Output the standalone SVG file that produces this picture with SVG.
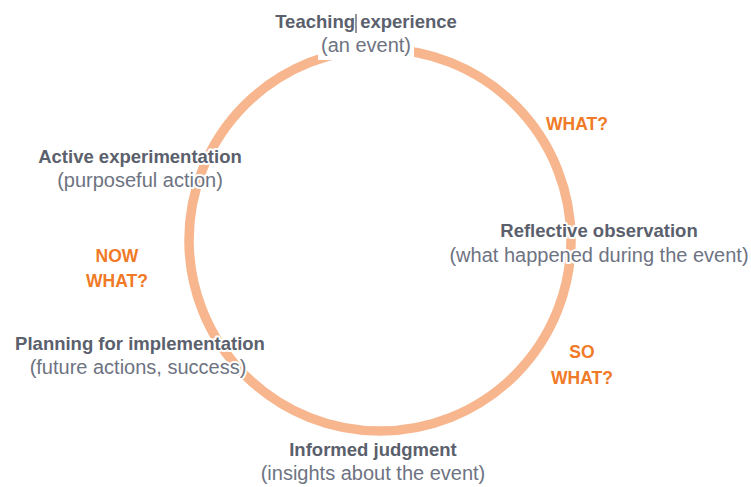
<svg xmlns="http://www.w3.org/2000/svg" width="751" height="487" viewBox="0 0 751 487">
<style>
text{font-family:"Liberation Sans",Arial,sans-serif;text-anchor:middle;paint-order:stroke;stroke:#ffffff;stroke-width:4px;stroke-linejoin:round}
.t{font-weight:bold;font-size:18.5px;fill:#5b606d}
.s{font-size:20px;fill:#6e7382}
.q{font-weight:bold;font-size:17.5px;fill:#f07a26}
</style>
<rect width="751" height="487" fill="#ffffff"/>
<g id="connectors">
<circle cx="380" cy="240" r="191" fill="none" stroke="#f7b68e" stroke-width="9.5"/>
</g>
<g id="teaching">
<rect x="318" y="34" width="96" height="26" fill="#ffffff"/>
<text class="t" x="366" y="28">Teaching experience</text>
<text class="s" x="366" y="52">(an event)</text>
<line x1="356" y1="14" x2="356" y2="33" stroke="#4a4e58" stroke-width="1.2"/>
</g>
<g id="what">
<text class="q" x="577" y="130">WHAT?</text>
</g>
<g id="reflective">
<text class="t" x="599" y="237">Reflective observation</text>
<text class="s" x="599" y="262">(what happened during the event)</text>
</g>
<g id="sowhat">
<text class="q" x="582" y="358">SO</text>
<text class="q" x="582" y="384">WHAT?</text>
</g>
<g id="informed">
<text class="t" x="373" y="456">Informed judgment</text>
<text class="s" x="373" y="480">(insights about the event)</text>
</g>
<g id="planning">
<text class="t" x="140" y="350">Planning for implementation</text>
<text class="s" x="138" y="374">(future actions, success)</text>
</g>
<g id="nowwhat">
<text class="q" x="117" y="262">NOW</text>
<text class="q" x="117" y="287">WHAT?</text>
</g>
<g id="active">
<text class="t" x="140" y="163">Active experimentation</text>
<text class="s" x="140" y="187">(purposeful action)</text>
</g>
</svg>
